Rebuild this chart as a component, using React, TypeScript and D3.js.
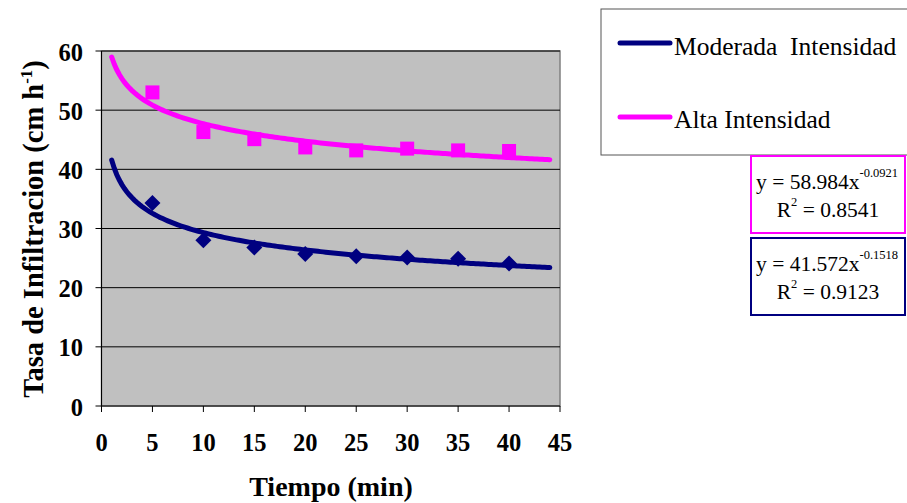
import React from "react";
import * as d3 from "d3";

const times = [5, 10, 15, 20, 25, 30, 35, 40];
const moderada = [34.3, 28.0, 26.8, 25.7, 25.3, 25.1, 24.9, 24.1];
const alta = [53.0, 46.3, 45.1, 43.7, 43.2, 43.5, 43.2, 43.1];
const xTicks = [0, 5, 10, 15, 20, 25, 30, 35, 40, 45];
const yTicks = [0, 10, 20, 30, 40, 50, 60];
// trendline coefficients as printed on the chart
const fitAlta = { a: 58.984, b: -0.0921, r2: "0.8541", aText: "58.984", bText: "-0.0921" };
const fitMod = { a: 41.572, b: -0.1518, r2: "0.9123", aText: "41.572", bText: "-0.1518" };

const NAVY = "#000080";
const MAGENTA = "#FF00FF";
const FONT = "Liberation Serif";
const fs = (size: number, bold = false): React.CSSProperties => ({
  fontFamily: FONT,
  fontSize: size + "px",
  fontWeight: bold ? 700 : 400,
});

export default function App() {
  const W = 907, H = 503;
  const L = 101.5, R = 560, T = 51, B = 406;
  const x = d3.scaleLinear().domain([0, 45]).range([L, R]);
  const y = d3.scaleLinear().domain([0, 60]).range([B, T]);

  const trendX = d3.range(1, 44.01, 0.25);
  const trendPath = (f: { a: number; b: number }) =>
    d3.line<number>().x((d) => x(d)).y((d) => y(f.a * Math.pow(d, f.b)))(trendX) || "";

  return (
    <svg width={W} height={H} style={{ position: "absolute", left: 0, top: 0, fontFamily: FONT }}>
      <rect x={0} y={0} width={W} height={H} fill="#fff" />
      {/* plot area */}
      <rect x={L} y={T} width={R - L} height={B - T} fill="#C0C0C0" stroke="#808080" strokeWidth={1.5} />
      {yTicks.filter((v) => v > 0).map((v) => (
        <line key={"g" + v} x1={L} x2={R} y1={y(v)} y2={y(v)} stroke="#000" strokeWidth={1} />
      ))}
      {/* axes */}
      <line x1={L} x2={L} y1={T} y2={B} stroke="#000" strokeWidth={1} />
      <line x1={L} x2={R} y1={B} y2={B} stroke="#000" strokeWidth={1} />
      {yTicks.map((v) => (
        <g key={"yt" + v}>
          <line x1={L - 6} x2={L} y1={y(v)} y2={y(v)} stroke="#000" />
          <text x={83} y={y(v) + 9.5} textAnchor="end" style={fs(24.5, true)}>{v}</text>
        </g>
      ))}
      {xTicks.map((v) => (
        <g key={"xt" + v}>
          <line x1={x(v)} x2={x(v)} y1={B} y2={B + 6} stroke="#000" />
          <text x={x(v)} y={450.5} textAnchor="middle" style={fs(24.5, true)}>{v}</text>
        </g>
      ))}
      {/* trendlines */}
      <path d={trendPath(fitAlta)} fill="none" stroke={MAGENTA} strokeWidth={5} strokeLinecap="round" />
      <path d={trendPath(fitMod)} fill="none" stroke={NAVY} strokeWidth={5} strokeLinecap="round" />
      {/* markers */}
      {times.map((t, i) => (
        <rect key={"a" + t} x={x(t) - 7} y={y(alta[i]) - 7} width={14} height={14} fill={MAGENTA} />
      ))}
      {times.map((t, i) => (
        <path key={"m" + t} d={`M${x(t)},${y(moderada[i]) - 8}L${x(t) + 8},${y(moderada[i])}L${x(t)},${y(moderada[i]) + 8}L${x(t) - 8},${y(moderada[i])}Z`} fill={NAVY} />
      ))}
      {/* axis titles */}
      <text x={331} y={496} textAnchor="middle" style={fs(28, true)}>Tiempo (min)</text>
      <text transform={`translate(43,229) rotate(-90)`} textAnchor="middle" style={fs(28.5, true)}>
        Tasa de Infiltracion (cm h<tspan dy={-11} style={fs(17, true)}>-1</tspan><tspan dy={11}>)</tspan>
      </text>
      {/* legend */}
      <rect x={601} y={9} width={320} height={146} fill="#fff" stroke="#555" strokeWidth={1} />
      <line x1={620} x2={670} y1={43} y2={43} stroke={NAVY} strokeWidth={5} strokeLinecap="round" />
      <text x={674} y={55} style={{ ...fs(25.5), whiteSpace: "pre" }}>{"Moderada  Intensidad"}</text>
      <line x1={620} x2={670} y1={117} y2={117} stroke={MAGENTA} strokeWidth={5} strokeLinecap="round" />
      <text x={674} y={128} style={fs(25.5)}>Alta Intensidad</text>
      {/* equation boxes */}
      {[{ f: fitAlta, c: MAGENTA, y0: 156 }, { f: fitMod, c: NAVY, y0: 238 }].map(({ f, c, y0 }) => (
        <g key={c}>
          <rect x={751} y={y0} width={154} height={77} fill="#fff" stroke={c} strokeWidth={2} />
          <text x={756} y={y0 + 32.5} style={fs(21.5)}>
            {"y = " + f.aText + "x"}<tspan dy={-11.5} style={fs(12.5)}>{f.bText}</tspan>
          </text>
          <text x={828} y={y0 + 61} textAnchor="middle" style={fs(21.5)}>
            R<tspan dy={-11} style={fs(12.5)}>2</tspan><tspan dy={11}>{" = " + f.r2}</tspan>
          </text>
        </g>
      ))}
    </svg>
  );
}
